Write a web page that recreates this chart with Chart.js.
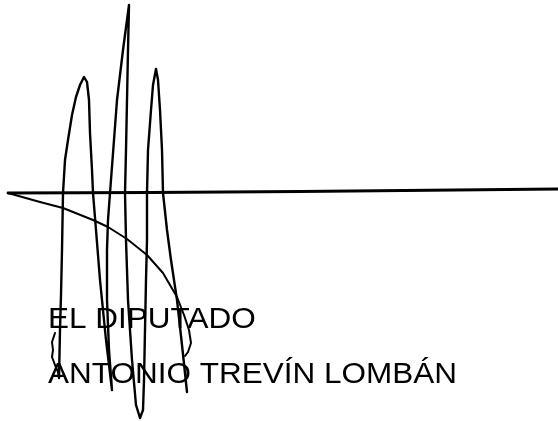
<!DOCTYPE html>
<html lang="es">
<head>
    <meta charset="UTF-8">
    <title>Firma - El Diputado</title>
    <script src="https://cdn.jsdelivr.net/npm/chart.js@4.4.1/dist/chart.umd.min.js"></script>
    <style>
        body { margin: 0; background: white; }
        #wrap { width: 558px; height: 421px; }
    </style>
</head>
<body>
    <div id="wrap"><canvas id="myChart" width="558" height="421"></canvas></div>
    <script>
        // page coordinates of the strokes (x right, y down)
        var ruleLine = [[8, 193], [150, 192.5], [300, 191.5], [558, 189]];
        var flourish = [[8, 193], [40, 202], [63, 208], [93, 220], [108, 227], [127, 239],
                        [147, 255], [163, 273], [177, 297], [184, 315], [189, 330],
                        [191, 343], [188, 352], [185, 356]];
        var squiggle = [[55, 333], [52, 342], [53, 350], [52, 357], [55, 365], [58, 372], [59, 378]];
        var loops = [[59, 378], [60, 330], [61, 295], [62, 250], [63, 193], [65, 160], [68, 140],
                     [72, 115], [76, 97], [80, 85], [84, 77], [87, 82], [89, 100], [90, 133],
                     [92, 170], [93, 193], [96, 230], [100, 280], [106, 340], [112, 390],
                     [109, 350], [107, 300], [107, 250], [108, 220], [110, 193], [114, 140],
                     [117, 100], [123, 50], [129, 5], [128, 50], [127, 100], [126, 150],
                     [125, 193], [126, 240], [128, 300], [132, 360], [136, 405], [140, 418],
                     [143, 410], [144, 380], [145, 330], [146, 280], [147, 240], [147, 193],
                     [148, 150], [151, 110], [153, 85], [156, 69], [158, 80], [160, 110],
                     [162, 150], [163, 193], [167, 230], [171, 260], [177, 300], [182, 345],
                     [187, 392]];
        var labelLines = ['EL DIPUTADO', 'ANTONIO TREVÍN LOMBÁN'];
        var labelBaselines = [328, 383];

        function pts(arr) {
            return arr.map(function (p) { return { x: p[0], y: p[1] }; });
        }

        function stroke(arr, w) {
            return {
                data: pts(arr),
                showLine: true,
                borderColor: 'black',
                borderWidth: w,
                borderJoinStyle: 'round',
                borderCapStyle: 'round',
                pointRadius: 0,
                tension: 0,
                fill: false
            };
        }

        // text under the signature
        var textPlugin = {
            id: 'textPlugin',
            beforeDatasetsDraw: function (chart) {
                var ctx = chart.ctx;
                var xs = chart.scales.x, ys = chart.scales.y;
                ctx.save();
                ctx.fillStyle = 'black';
                ctx.font = '30px "Liberation Sans", Arial, sans-serif';
                ctx.textBaseline = 'alphabetic';
                for (var i = 0; i < labelLines.length; i++) {
                    var px = xs.getPixelForValue(48);
                    var py = ys.getPixelForValue(labelBaselines[i]);
                    ctx.save();
                    ctx.translate(px, py);
                    ctx.scale(1.05, 1);
                    ctx.fillText(labelLines[i], 0, 0);
                    ctx.restore();
                }
                ctx.restore();
            }
        };

        var ctx = document.getElementById('myChart').getContext('2d');
        var myChart = new Chart(ctx, {
            type: 'scatter',
            data: {
                datasets: [
                    stroke(ruleLine, 2.8),
                    stroke(flourish, 2),
                    stroke(squiggle, 2),
                    stroke(loops, 2.4)
                ]
            },
            options: {
                responsive: false,
                animation: false,
                layout: { padding: 0 },
                plugins: {
                    legend: { display: false },
                    tooltip: { enabled: false }
                },
                scales: {
                    x: { type: 'linear', min: 0, max: 558, display: false },
                    y: { type: 'linear', min: 0, max: 421, reverse: true, display: false }
                }
            },
            plugins: [textPlugin]
        });
    </script>
</body>
</html>
